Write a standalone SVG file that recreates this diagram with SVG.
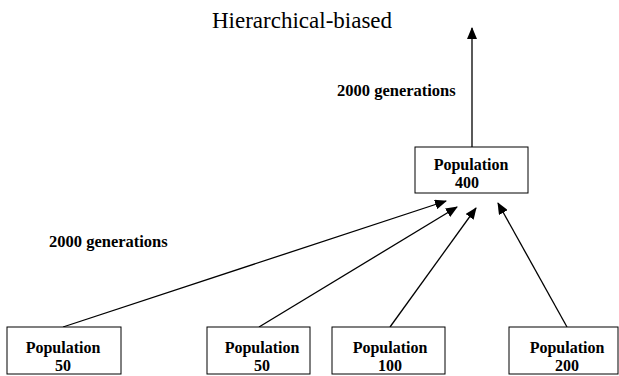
<svg xmlns="http://www.w3.org/2000/svg" width="619" height="376" viewBox="0 0 619 376">
<style>
.box{fill:#fff;stroke:#000;stroke-width:1}
.lbl{font-family:"Liberation Serif","Times New Roman",serif;font-weight:bold;font-size:16px;fill:#000;text-anchor:middle}
.edge{font-family:"Liberation Serif","Times New Roman",serif;font-weight:bold;font-size:16.5px;fill:#000}
.title{font-family:"Liberation Serif","Times New Roman",serif;font-size:23px;fill:#000}
.conn{stroke:#000;stroke-width:1.3;fill:none;marker-end:url(#ah)}
</style>
<defs>
<marker id="ah" markerUnits="userSpaceOnUse" markerWidth="12" markerHeight="10" refX="11" refY="5" orient="auto">
<path d="M0,0 L12,5 L0,10 Z" fill="#000"/>
</marker>
</defs>
<rect width="619" height="376" fill="#fff"/>
<text class="title" x="212" y="28">Hierarchical-biased</text>
<g id="connectors">
<line class="conn" x1="472" y1="147" x2="472" y2="28"/>
<line class="conn" x1="63" y1="327" x2="446" y2="201"/>
<line class="conn" x1="259" y1="327" x2="457" y2="207"/>
<line class="conn" x1="390" y1="327" x2="476" y2="208"/>
<line class="conn" x1="567" y1="327" x2="498" y2="203"/>
<text class="edge" x="337" y="96">2000 generations</text>
<text class="edge" x="49" y="247">2000 generations</text>
</g>
<g id="pop400">
<rect class="box" x="415" y="147" width="113" height="46"/>
<text class="lbl" x="471" y="170">Population</text>
<text class="lbl" x="467" y="188">400</text>
</g>
<g id="pop50a">
<rect class="box" x="7" y="327" width="114" height="47"/>
<text class="lbl" x="63" y="353">Population</text>
<text class="lbl" x="63" y="371">50</text>
</g>
<g id="pop50b">
<rect class="box" x="207" y="327" width="103" height="47"/>
<text class="lbl" x="262" y="353">Population</text>
<text class="lbl" x="262" y="371">50</text>
</g>
<g id="pop100">
<rect class="box" x="332" y="327" width="113" height="47"/>
<text class="lbl" x="390" y="353">Population</text>
<text class="lbl" x="390" y="371">100</text>
</g>
<g id="pop200">
<rect class="box" x="509" y="327" width="109" height="47"/>
<text class="lbl" x="567" y="353">Population</text>
<text class="lbl" x="567" y="371">200</text>
</g>
</svg>
